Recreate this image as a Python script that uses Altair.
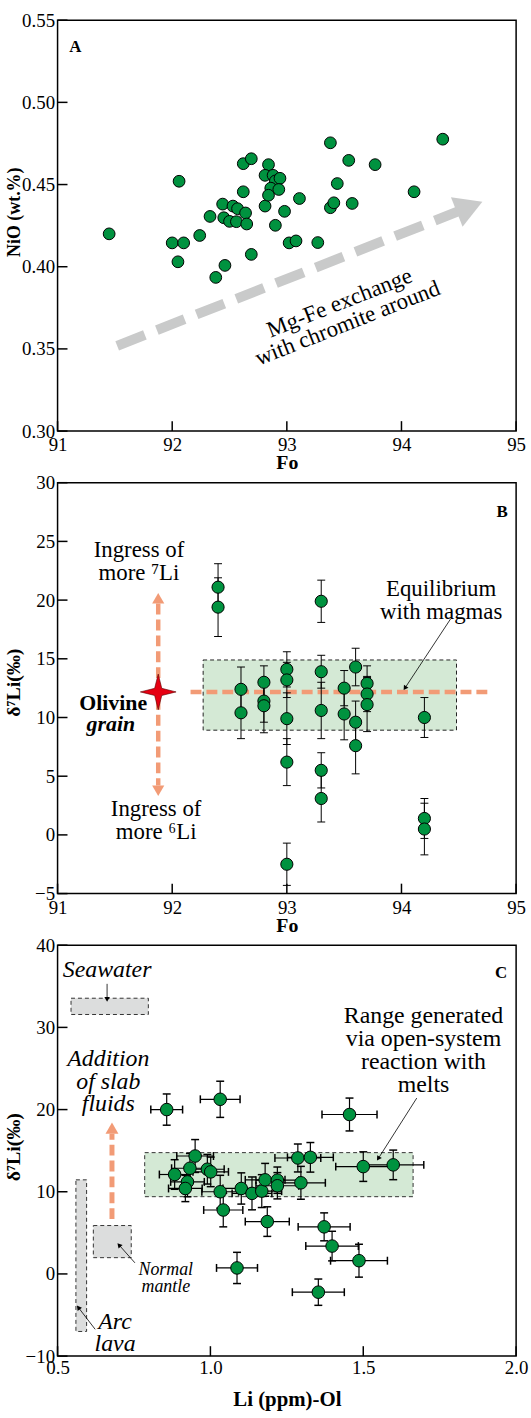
import altair as alt
import pandas as pd

FONT = "Liberation Serif"
GREEN = "#00923F"
ORANGE = "#F29B76"
ARROW_GRAY = "#C9CACA"
BOX_GREEN = "#D4E9D5"
BOX_GRAY = "#DCDDDD"
W, H = 462, 414

# ---------------- Panel A data ----------------
a_fo = [91.45, 92.06, 92.00, 92.10, 92.05, 92.24, 92.33, 92.38, 92.46, 92.44,
        92.45, 92.50, 92.53, 92.56, 92.57, 92.64, 92.65, 92.62, 92.62, 92.69,
        92.69, 92.81, 92.84, 92.81, 92.88, 92.90, 92.94, 92.86, 92.93, 92.84,
        92.90, 92.98, 93.02, 93.08, 93.11, 93.27, 93.38, 93.38, 93.41, 93.44,
        93.54, 93.57, 93.77, 94.11, 94.36]
a_nio = [0.420, 0.452, 0.4145, 0.4145, 0.403, 0.419, 0.4306, 0.3935, 0.4008, 0.4381,
         0.4298, 0.4276, 0.4369, 0.4274, 0.4353, 0.4327, 0.4260, 0.4456, 0.4627, 0.4657,
         0.4075, 0.4369, 0.4621, 0.4556, 0.4556, 0.4522, 0.4538, 0.4478, 0.4470, 0.4435,
         0.4252, 0.4337, 0.4145, 0.4157, 0.4415, 0.4147, 0.4754, 0.4359, 0.4389, 0.4506,
         0.4647, 0.4385, 0.4621, 0.4456, 0.4776]
a_xticks = [91, 92, 93, 94, 95]
a_yticks = [0.30, 0.35, 0.40, 0.45, 0.50, 0.55]
a_arrow_fo = [91.52, 94.51]
a_arrow_nio = [0.3519, 0.4341]
a_head_fo = [94.594]
a_head_nio = [0.4364]
a_note = ["Mg-Fe exchange\nwith chromite around"]
a_note_fo = [93.46]
a_note_nio = [0.3779]

# ---------------- Panel B data ----------------
b_fo = [92.4, 92.4, 93.3, 92.6, 92.6, 92.8, 92.8, 92.8, 93.0, 93.0, 93.0, 93.0, 93.0,
        93.3, 93.3, 93.3, 93.3, 93.5, 93.5, 93.6, 93.6, 93.6, 93.7, 93.7, 93.7,
        94.2, 94.2, 94.2]
b_d7 = [21.1, 19.4, 19.9, 12.4, 10.4, 13.0, 11.4, 11.0, 14.1, 13.2, 9.9, 6.2, -2.5,
        13.9, 10.6, 5.5, 3.1, 12.5, 10.3, 14.3, 9.6, 7.6, 12.9, 12.0, 11.1,
        10.0, 1.4, 0.5]
b_err = [2.0, 2.5, 1.8, 1.9, 2.2, 1.4, 1.8, 2.3, 1.5, 1.5, 2.2, 2.0, 1.8,
         1.4, 2.4, 1.5, 2.0, 1.5, 2.2, 1.6, 1.8, 2.4, 1.5, 1.5, 2.3,
         1.7, 1.7, 2.2]
b_xticks = [91, 92, 93, 94, 95]
b_yticks = [-5, 0, 5, 10, 15, 20, 25, 30]
b_box_fo = [92.27, 94.48]
b_box_d7 = [8.92, 14.9]
b_hline_fo = [92.16, 94.75]
b_hline_d7 = [12.18, 12.18]
b_star = (91.878, 12.18)
b_vline_d7 = [19.7, 4.2]
b_head_d7 = [20.15, 3.76]

# ---------------- Panel C data ----------------
c_li = [0.857, 1.032, 1.455, 0.950, 0.933, 0.883, 0.925, 0.918, 0.990, 1.001,
        1.032, 1.042, 1.101, 1.136, 1.168, 1.179, 1.219, 1.219, 1.186, 1.286,
        1.327, 1.296, 1.500, 1.598, 1.372, 1.398, 1.486, 1.087, 1.353]
c_d7 = [20.0, 21.25, 19.4, 14.35, 12.86, 12.10, 11.2, 10.4, 12.74, 12.42,
        10.0, 7.78, 10.4, 9.8, 10.08, 11.45, 11.41, 10.73, 6.37, 14.11,
        14.19, 11.09, 13.06, 13.27, 5.73, 3.39, 1.61, 0.73, -2.22]
c_xerr = [0.052, 0.065, 0.09, 0.06, 0.06, 0.05, 0.055, 0.055, 0.055, 0.058,
          0.06, 0.064, 0.06, 0.065, 0.065, 0.065, 0.07, 0.07, 0.072, 0.075,
          0.075, 0.08, 0.09, 0.10, 0.085, 0.086, 0.093, 0.067, 0.085]
c_yerr = [1.9, 2.2, 2.0, 2.0, 1.8, 1.8, 1.8, 1.6, 1.8, 1.8,
          2.0, 2.05, 1.9, 2.0, 2.0, 2.0, 1.6, 1.6, 1.8, 1.7,
          1.8, 2.0, 1.8, 1.8, 1.7, 1.8, 2.0, 1.9, 1.6]
c_xticks = [0.5, 1.0, 1.5, 2.0]
c_yticks = [-10, 0, 10, 20, 30, 40]
c_box_green = (0.785, 1.663, 9.40, 14.76)
c_box_sea = (0.544, 0.797, 31.57, 33.55)
c_box_mantle = (0.617, 0.741, 1.98, 5.89)
c_box_arc = (0.560, 0.595, -7.0, 11.45)
c_varrow_li = [0.678, 0.678]
c_varrow_d7 = [6.67, 17.05]
c_vhead = (0.678, 17.74)


def enc(sx, sy, ax, ay):
    return (alt.X("x:Q", scale=sx, axis=ax), alt.Y("y:Q", scale=sy, axis=ay))


def xaxis(title, values, fmt, title_y, title_size, label_pad):
    return alt.Axis(title=title, values=values, format=fmt, labelPadding=label_pad,
                    titleY=title_y, titleBaseline="alphabetic", titleFontSize=title_size)


def yaxis(title, values, fmt, title_size, title_y):
    return alt.Axis(title=title, values=values, format=fmt, labelPadding=3,
                    titleX=-34, titleY=title_y, titleFontSize=title_size)


def ticks(xvals, yvals, X, Y):
    xt = alt.Chart(pd.DataFrame({"x": xvals})).mark_rule(color="black", strokeWidth=1.5).encode(
        x=X, y=alt.value(H), y2=alt.value(H - 10))
    yt = alt.Chart(pd.DataFrame({"y": yvals})).mark_rule(color="black", strokeWidth=1.5).encode(
        y=Y, x=alt.value(0), x2=alt.value(10))
    return [xt, yt]


def text(X, Y, xs, ys, labels, **kw):
    base = dict(font=FONT, color="black", align="center", baseline="alphabetic", lineBreak="\n")
    base.update(kw)
    return alt.Chart(pd.DataFrame({"x": xs, "y": ys, "t": labels})).mark_text(**base).encode(
        x=X, y=Y, text="t:N")


def thin_arrow(X, Y, xs, ys, angle):
    ln = alt.Chart(pd.DataFrame({"x": xs, "y": ys, "o": [0, 1]})).mark_line(
        color="black", strokeWidth=0.8).encode(x=X, y=Y, order="o:Q")
    hd = alt.Chart(pd.DataFrame({"x": [xs[1]], "y": [ys[1]]})).mark_point(
        shape="triangle-right", angle=angle, size=30, filled=True, color="black", opacity=1).encode(x=X, y=Y)
    return [ln, hd]


def rect(X, Y, box, fill, stroke):
    return alt.Chart(pd.DataFrame({"x": [box[0]], "x2": [box[1]], "y": [box[2]], "y2": [box[3]]})).mark_rect(
        fill=fill, stroke=stroke, strokeWidth=1, strokeDash=[4, 3], opacity=1).encode(
        x=X, x2="x2:Q", y=Y, y2="y2:Q")


# ================= Panel A =================
sAx = alt.Scale(domain=[91, 95], nice=False, zero=False)
sAy = alt.Scale(domain=[0.30, 0.55], nice=False, zero=False)
XA, YA = enc(sAx, sAy, xaxis("Fo", a_xticks, "d", 38, 20, 5),
             yaxis("NiO (wt.%)", a_yticks, ".2f", 18, 193))

a_layers = []
a_layers.append(alt.Chart(pd.DataFrame({"x": a_arrow_fo, "y": a_arrow_nio})).mark_line(
    color=ARROW_GRAY, strokeWidth=10, strokeDash=[30, 13], strokeCap="butt").encode(x=XA, y=YA))
a_layers.append(alt.Chart(pd.DataFrame({"x": a_head_fo, "y": a_head_nio})).mark_point(
    shape="triangle-right", angle=338.5, size=1024, filled=True, color=ARROW_GRAY, opacity=1).encode(x=XA, y=YA))
a_layers.append(alt.Chart(pd.DataFrame({"x": a_fo, "y": a_nio})).mark_circle(
    size=140, fill=GREEN, stroke="black", strokeWidth=1, opacity=1).encode(x=XA, y=YA))
a_layers.append(text(XA, YA, a_note_fo, a_note_nio, a_note, fontSize=23, angle=338.5,
                     baseline="middle", lineHeight=22))
a_layers.append(text(XA, YA, [91.156], [0.5309], ["A"], fontSize=17, fontWeight="bold"))
a_layers += ticks(a_xticks, a_yticks, XA, YA)
chartA = alt.layer(*a_layers).properties(width=W, height=H)

# ================= Panel B =================
sBx = alt.Scale(domain=[91, 95], nice=False, zero=False)
sBy = alt.Scale(domain=[-5, 30], nice=False, zero=False)
XB, YB = enc(sBx, sBy, xaxis("Fo", b_xticks, "d", 38, 20, 5),
             yaxis("δ⁷Li(‰)", b_yticks, "d", 20, 201))

b_lo = [v - e for v, e in zip(b_d7, b_err)]
b_hi = [v + e for v, e in zip(b_d7, b_err)]
b_layers = []
b_layers.append(rect(XB, YB, (b_box_fo[0], b_box_fo[1], b_box_d7[0], b_box_d7[1]), BOX_GREEN, "#222222"))
b_layers.append(alt.Chart(pd.DataFrame({"x": b_hline_fo, "y": b_hline_d7})).mark_line(
    color=ORANGE, strokeWidth=4.5, strokeDash=[11, 5], strokeCap="butt").encode(x=XB, y=YB))
b_layers.append(alt.Chart(pd.DataFrame({"x": [b_star[0]] * 2, "y": b_vline_d7, "o": [0, 1]})).mark_line(
    color=ORANGE, strokeWidth=4.5, strokeDash=[11, 5], strokeCap="butt").encode(x=XB, y=YB, order="o:Q"))
b_layers.append(alt.Chart(pd.DataFrame({"x": [b_star[0]], "y": [b_head_d7[0]]})).mark_point(
    shape="triangle-up", size=150, filled=True, color=ORANGE, opacity=1).encode(x=XB, y=YB))
b_layers.append(alt.Chart(pd.DataFrame({"x": [b_star[0]], "y": [b_head_d7[1]]})).mark_point(
    shape="triangle-down", size=150, filled=True, color=ORANGE, opacity=1).encode(x=XB, y=YB))
b_layers.append(alt.Chart(pd.DataFrame({"x": b_fo, "y": b_lo, "y2": b_hi})).mark_rule(
    color="black", strokeWidth=1).encode(x=XB, y=YB, y2="y2:Q"))
for vals in (b_lo, b_hi):
    b_layers.append(alt.Chart(pd.DataFrame({"x": b_fo, "y": vals})).mark_tick(
        orient="horizontal", size=8, thickness=1, color="black", opacity=1).encode(x=XB, y=YB))
b_layers.append(alt.Chart(pd.DataFrame({"x": b_fo, "y": b_d7})).mark_circle(
    size=150, fill=GREEN, stroke="black", strokeWidth=1, opacity=1).encode(x=XB, y=YB))
b_layers.append(alt.Chart(pd.DataFrame({"x": [b_star[0]], "y": [b_star[1]]})).mark_point(
    shape="M0,-1L0.2,-0.2L1,0L0.2,0.2L0,1L-0.2,0.2L-1,0L-0.2,-0.2Z", size=1296, filled=True,
    fill="#E60012", stroke="#5a0000", strokeWidth=0.6, opacity=1).encode(x=XB, y=YB))
b_layers.append(text(XB, YB, [91.71], [23.69], ["Ingress of\nmore ⁷Li"], fontSize=23, lineHeight=23))
b_layers.append(text(XB, YB, [91.86], [1.62], ["Ingress of\nmore ⁶Li"], fontSize=23, lineHeight=23))
b_layers.append(text(XB, YB, [94.346], [20.36], ["Equilibrium\nwith magmas"], fontSize=23, lineHeight=23))
b_layers.append(text(XB, YB, [91.485], [10.64], ["Olivine"], fontSize=22, fontWeight="bold"))
b_layers.append(text(XB, YB, [91.465], [8.81], ["grain"], fontSize=22, fontWeight="bold", fontStyle="italic"))
b_layers.append(text(XB, YB, [94.879], [27.04], ["B"], fontSize=17, fontWeight="bold"))
b_layers += thin_arrow(XB, YB, [94.43, 94.03], [18.42, 12.5], 123.3)
b_layers += ticks(b_xticks, b_yticks, XB, YB)
chartB = alt.layer(*b_layers).properties(width=W, height=H)

# ================= Panel C =================
sCx = alt.Scale(domain=[0.5, 2.0], nice=False, zero=False)
sCy = alt.Scale(domain=[-10, 40], nice=False, zero=False)
XC, YC = enc(sCx, sCy, xaxis("Li (ppm)-Ol", c_xticks, ".1f", 50, 21, 3),
             yaxis("δ⁷Li(‰)", c_yticks, "d", 20, 203))

c_xlo = [v - e for v, e in zip(c_li, c_xerr)]
c_xhi = [v + e for v, e in zip(c_li, c_xerr)]
c_ylo = [v - e for v, e in zip(c_d7, c_yerr)]
c_yhi = [v + e for v, e in zip(c_d7, c_yerr)]
c_layers = []
c_layers.append(rect(XC, YC, c_box_green, BOX_GREEN, "#333333"))
c_layers.append(rect(XC, YC, c_box_sea, BOX_GRAY, "#333333"))
c_layers.append(rect(XC, YC, c_box_mantle, BOX_GRAY, "#333333"))
c_layers.append(rect(XC, YC, c_box_arc, BOX_GRAY, "#333333"))
c_layers.append(alt.Chart(pd.DataFrame({"x": c_varrow_li, "y": c_varrow_d7, "o": [0, 1]})).mark_line(
    color=ORANGE, strokeWidth=5, strokeDash=[11, 5], strokeCap="butt").encode(x=XC, y=YC, order="o:Q"))
c_layers.append(alt.Chart(pd.DataFrame({"x": [c_vhead[0]], "y": [c_vhead[1]]})).mark_point(
    shape="triangle-up", size=170, filled=True, color=ORANGE, opacity=1).encode(x=XC, y=YC))
c_layers.append(alt.Chart(pd.DataFrame({"x": c_li, "y": c_ylo, "y2": c_yhi})).mark_rule(
    color="black", strokeWidth=1.2).encode(x=XC, y=YC, y2="y2:Q"))
c_layers.append(alt.Chart(pd.DataFrame({"x": c_xlo, "x2": c_xhi, "y": c_d7})).mark_rule(
    color="black", strokeWidth=1.2).encode(x=XC, x2="x2:Q", y=YC))
for vals in (c_ylo, c_yhi):
    c_layers.append(alt.Chart(pd.DataFrame({"x": c_li, "y": vals})).mark_tick(
        orient="horizontal", size=8, thickness=1.5, color="black", opacity=1).encode(x=XC, y=YC))
for vals in (c_xlo, c_xhi):
    c_layers.append(alt.Chart(pd.DataFrame({"x": vals, "y": c_d7})).mark_tick(
        orient="vertical", size=8, thickness=1.5, color="black", opacity=1).encode(x=XC, y=YC))
c_layers.append(alt.Chart(pd.DataFrame({"x": c_li, "y": c_d7})).mark_circle(
    size=160, fill=GREEN, stroke="black", strokeWidth=1, opacity=1).encode(x=XC, y=YC))
c_layers.append(text(XC, YC, [0.662], [36.1], ["Seawater"], fontSize=24, fontStyle="italic"))
c_layers.append(text(XC, YC, [0.666], [25.27], ["Addition\nof slab\nfluids"], fontSize=24,
                     fontStyle="italic", lineHeight=22.7))
c_layers.append(text(XC, YC, [1.697], [30.5], ["Range generated\nvia open-system\nreaction with\nmelts"],
                     fontSize=24, lineHeight=23))
c_layers.append(text(XC, YC, [0.854], [-0.18], ["Normal\nmantle"], fontSize=18, fontStyle="italic",
                     lineHeight=17))
c_layers.append(text(XC, YC, [0.688], [-6.74], ["Arc\nlava"], fontSize=24, fontStyle="italic",
                     lineHeight=22.3))
c_layers.append(text(XC, YC, [1.951], [36.0], ["C"], fontSize=17, fontWeight="bold"))
c_layers += thin_arrow(XC, YC, [0.662, 0.662], [35.3, 33.4], 90)
c_layers += thin_arrow(XC, YC, [1.675, 1.549], [21.4, 14.03], 122.6)
c_layers += thin_arrow(XC, YC, [0.753, 0.701], [1.35, 3.53], 228.4)
c_layers += thin_arrow(XC, YC, [0.623, 0.568], [-6.74, -4.08], 232.3)
c_layers += ticks(c_xticks, c_yticks, XC, YC)
chartC = alt.layer(*c_layers).properties(width=W, height=H)

chart = alt.vconcat(chartA, chartB, chartC, spacing=52, bounds="flush").properties(
    padding={"left": 3, "top": 5, "right": 2, "bottom": 0}
).configure_view(
    stroke="black", strokeWidth=1.5
).configure_axis(
    labelFont=FONT, labelFontSize=19, labelColor="black",
    titleFont=FONT, titleFontWeight="bold", titleColor="black",
    domain=False, ticks=False, grid=False, labelFlush=False, labelOverlap=False
)

chart.save("out.html", embed_options={"renderer": "svg", "actions": False})
